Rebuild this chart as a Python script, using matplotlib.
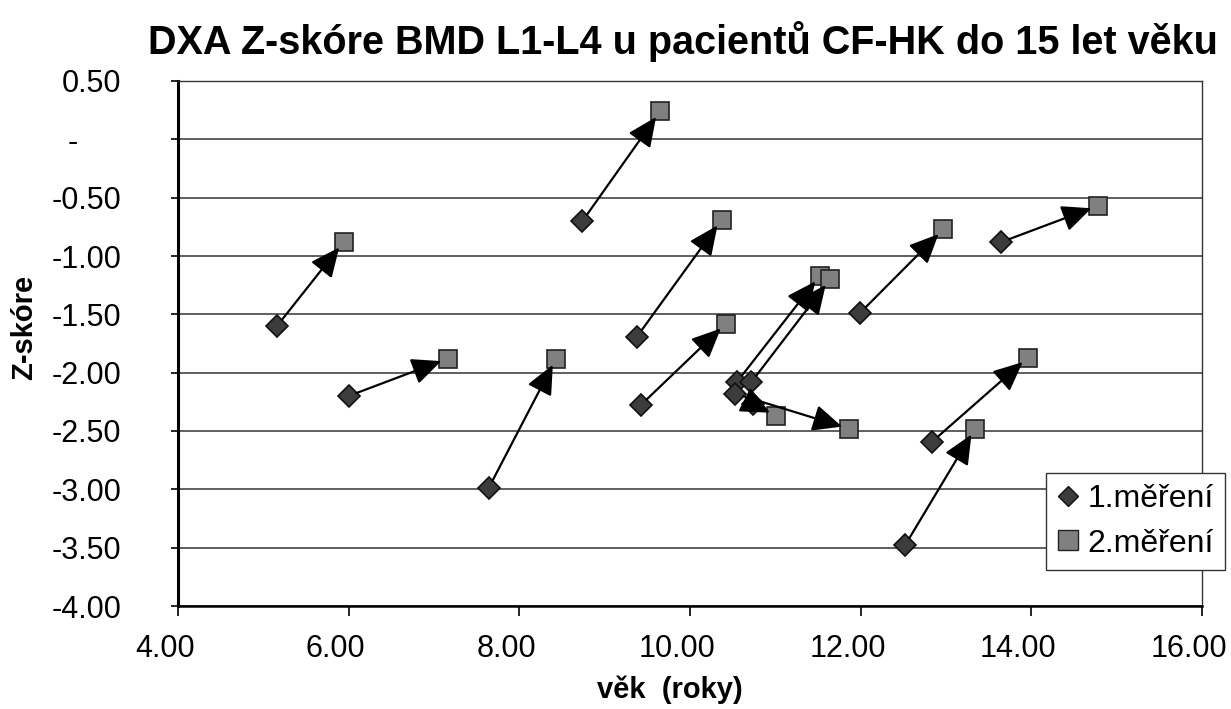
import matplotlib
matplotlib.use("Agg")
import matplotlib.pyplot as plt
from matplotlib.ticker import FuncFormatter, MultipleLocator
from matplotlib.lines import Line2D
import matplotlib.transforms as mtransforms

plt.rcParams['font.family'] = ['Liberation Sans', 'DejaVu Sans']
plt.rcParams['axes.unicode_minus'] = False

# --- data ---
age_1 = [5.16, 6.00, 7.64, 8.74, 9.38, 9.42, 10.55, 10.72, 10.53, 10.74, 11.99, 12.84, 12.52, 13.65]
z_1 = [-1.60, -2.20, -2.99, -0.70, -1.69, -2.28, -2.08, -2.08, -2.18, -2.27, -1.49, -2.59, -3.48, -0.88]
age_2 = [5.94, 7.16, 8.43, 9.65, 10.37, 10.42, 11.52, 11.64, 11.86, 11.01, 12.97, 13.96, 13.34, 14.78]
z_2 = [-0.88, -1.88, -1.88, 0.24, -0.69, -1.58, -1.17, -1.20, -2.48, -2.37, -0.77, -1.87, -2.48, -0.57]

series_labels = ['1.měření', '2.měření']
title = 'DXA Z-skóre BMD L1-L4 u pacientů CF-HK do 15 let věku'
x_label = 'věk  (roky)'
y_label = 'Z-skóre'

W, H = 1231, 709
fig = plt.figure(figsize=(W / 100, H / 100), dpi=100)
ax = fig.add_axes([178 / W, 1 - 606 / H, (1202 - 178) / W, (606 - 81) / H])

ax.set_xlim(4, 16)
ax.set_ylim(-4, 0.5)
ax.xaxis.set_major_locator(MultipleLocator(2))
ax.yaxis.set_major_locator(MultipleLocator(0.5))

def yfmt(v, pos):
    if abs(v) < 1e-9:
        return '-     '
    return f'{v:.2f}'

ax.yaxis.set_major_formatter(FuncFormatter(yfmt))
ax.xaxis.set_major_formatter(FuncFormatter(lambda v, p: f'{v:.2f}'))

ax.grid(axis='y', color='#444444', linewidth=1.2)
ax.set_axisbelow(True)

for s in ['top', 'right']:
    ax.spines[s].set_color('#333333')
    ax.spines[s].set_linewidth(1.0)
ax.spines['left'].set_linewidth(2.2)
ax.spines['bottom'].set_linewidth(1.8)

ax.tick_params(axis='y', direction='out', length=5, width=1.2, labelsize=22, pad=36)
ax.tick_params(axis='x', direction='out', length=7, width=1.2, labelsize=22, pad=13)

offset = mtransforms.ScaledTranslation(-13 / 100, 0, fig.dpi_scale_trans)
for lab in ax.get_xticklabels():
    lab.set_transform(lab.get_transform() + offset)

# markers
ax.plot(age_1, z_1, linestyle='none', marker='D', markersize=11.5,
        markerfacecolor='#3c3c3c', markeredgecolor='#111111', markeredgewidth=1.2, zorder=3)
ax.plot(age_2, z_2, linestyle='none', marker='s', markersize=13.5,
        markerfacecolor='#808080', markeredgecolor='#222222', markeredgewidth=1.2, zorder=3)

# arrows from 1st to 2nd measurement
for x1, y1, x2, y2 in zip(age_1, z_1, age_2, z_2):
    ax.annotate('', xy=(x2, y2), xytext=(x1, y1),
                arrowprops=dict(arrowstyle='-|>,head_length=0.75,head_width=0.34',
                                mutation_scale=24, color='black', lw=1.6,
                                shrinkA=6, shrinkB=5),
                zorder=4)

fig.text(683 / W, 1 - 42 / H, title, ha='center', va='center',
         fontsize=28.5, fontweight='bold')
fig.text(670 / W, 1 - 690 / H, x_label, ha='center', va='center',
         fontsize=21, fontweight='bold')
fig.text(24 / W, 1 - 327 / H, y_label, ha='center', va='center',
         fontsize=21, fontweight='bold', rotation=90)

handles = [
    Line2D([], [], linestyle='none', marker='D', markersize=10,
           markerfacecolor='#3c3c3c', markeredgecolor='#111111'),
    Line2D([], [], linestyle='none', marker='s', markersize=14,
           markerfacecolor='#808080', markeredgecolor='#222222'),
]
leg = fig.legend(handles, series_labels, loc='upper right',
                 bbox_to_anchor=(1225 / W, 1 - 473 / H),
                 fontsize=23, frameon=True, fancybox=False, framealpha=1,
                 edgecolor='#333333', handlelength=0.7, handletextpad=0.25,
                 borderpad=0.35, labelspacing=0.45, borderaxespad=0)
leg.get_frame().set_linewidth(1.0)

fig.savefig('out.png', dpi=100)
